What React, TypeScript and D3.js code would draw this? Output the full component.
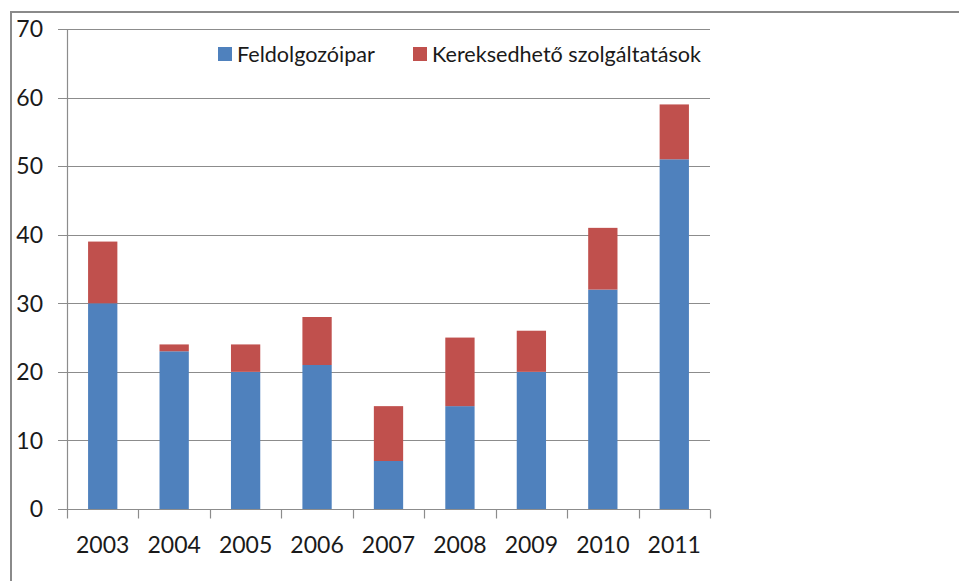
import React, { useEffect, useRef } from 'react';
import * as d3 from 'd3';

const years = ['2003', '2004', '2005', '2006', '2007', '2008', '2009', '2010', '2011'];
const feldolgozoipar = [30, 23, 20, 21, 7, 15, 20, 32, 51];
const szolgaltatasok = [9, 1, 4, 7, 8, 10, 6, 9, 8];
const seriesNames = ['Feldolgozóipar', 'Kereksedhető szolgáltatások'];
const seriesColors = ['#4F81BD', '#C0504D'];
const yTicks = [0, 10, 20, 30, 40, 50, 60, 70];

const W = 959;
const H = 581;
const FONT = 'Lato, "Open Sans", sans-serif';

const App = () => {
  const ref = useRef<SVGSVGElement>(null);

  useEffect(() => {
    const svg = d3.select(ref.current);
    svg.selectAll('*').remove();

    const margin = { top: 29, right: 249, bottom: 72, left: 67 };

    const rows = years.map((y, i) => ({ year: y, a: feldolgozoipar[i], b: szolgaltatasok[i] }));
    const stacked = d3.stack<any>().keys(['a', 'b'])(rows);

    const x = d3
      .scaleBand()
      .domain(years)
      .range([margin.left, W - margin.right])
      .paddingInner(0.59)
      .paddingOuter(0.295);

    const y = d3
      .scaleLinear()
      .domain([0, 70])
      .range([H - margin.bottom, margin.top]);

    // outer frame (only left and top edges visible)
    svg.append('rect')
      .attr('x', 11).attr('y', 12)
      .attr('width', W + 20).attr('height', H + 20)
      .attr('fill', 'white')
      .attr('stroke', '#8a8a8a')
      .attr('stroke-width', 2);

    // gridlines
    svg.append('g')
      .selectAll('line')
      .data(yTicks.filter((t) => t > 0))
      .join('line')
      .attr('x1', margin.left - 9)
      .attr('x2', W - margin.right)
      .attr('y1', (d) => Math.round(y(d)) + 0.5)
      .attr('y2', (d) => Math.round(y(d)) + 0.5)
      .attr('stroke', '#8c8c8c')
      .attr('stroke-width', 1.2);

    // bars
    svg.append('g')
      .selectAll('g')
      .data(stacked)
      .join('g')
      .attr('fill', (_d, i) => seriesColors[i])
      .selectAll('rect')
      .data((d) => d)
      .join('rect')
      .attr('x', (d: any) => x(d.data.year)!)
      .attr('width', x.bandwidth())
      .attr('y', (d) => y(d[1]))
      .attr('height', (d) => y(d[0]) - y(d[1]));

    // x axis
    const xAxis = svg.append('g');
    const y0 = Math.round(y(0)) + 0.5;
    xAxis.append('line')
      .attr('x1', margin.left - 9).attr('x2', W - margin.right)
      .attr('y1', y0).attr('y2', y0)
      .attr('stroke', '#8c8c8c').attr('stroke-width', 1.2);
    const step = x.step();
    const tickXs = d3.range(years.length + 1).map((i) => margin.left + i * step);
    xAxis.selectAll('line.tick')
      .data(tickXs)
      .join('line')
      .attr('class', 'tick')
      .attr('x1', (d) => Math.round(d) + 0.5).attr('x2', (d) => Math.round(d) + 0.5)
      .attr('y1', y0).attr('y2', y0 + 9)
      .attr('stroke', '#8c8c8c').attr('stroke-width', 1.2);
    xAxis.selectAll('text')
      .data(years)
      .join('text')
      .attr('x', (d) => x(d)! + x.bandwidth() / 2)
      .attr('y', 553)
      .attr('text-anchor', 'middle')
      .attr('font-family', FONT)
      .attr('font-size', 23)
      .attr('fill', '#1a1a1a')
      .text((d) => d);

    // y axis
    svg.append('line')
      .attr('x1', margin.left + 0.5).attr('x2', margin.left + 0.5)
      .attr('y1', y(70)).attr('y2', y0)
      .attr('stroke', '#8c8c8c').attr('stroke-width', 1.2);
    svg.append('g')
      .selectAll('text')
      .data(yTicks)
      .join('text')
      .attr('x', 43)
      .attr('y', (d) => y(d))
      .attr('dy', '0.36em')
      .attr('text-anchor', 'end')
      .attr('font-family', FONT)
      .attr('font-size', 23)
      .attr('fill', '#1a1a1a')
      .text((d) => d);

    // legend
    const legendX = [218, 413];
    const legend = svg.append('g');
    seriesNames.forEach((name, i) => {
      legend.append('rect')
        .attr('x', legendX[i]).attr('y', 47)
        .attr('width', 14).attr('height', 14)
        .attr('fill', seriesColors[i]);
      legend.append('text')
        .attr('x', legendX[i] + 19).attr('y', 54)
        .attr('dy', '0.36em')
        .attr('font-family', FONT)
        .attr('font-size', 21.6)
        .attr('fill', '#1a1a1a')
        .text(name);
    });
  }, []);

  return (
    <div style={{ position: 'absolute', left: 0, top: 0, width: W, height: H, background: 'white' }}>
      <svg ref={ref} width={W} height={H} style={{ display: 'block' }}></svg>
    </div>
  );
};

export default App;
